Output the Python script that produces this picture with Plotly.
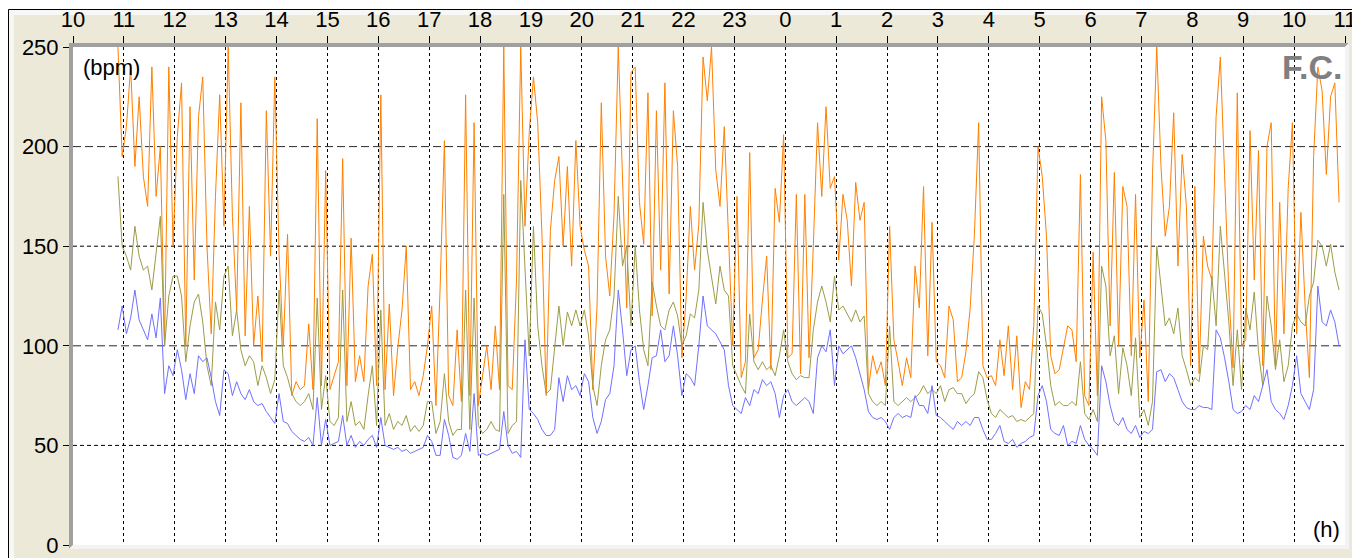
import plotly.graph_objects as go

# ---------------- data (heart rate, bpm, one sample every 5 minutes) ----------------
START_HOUR = 10 + 53 / 60      # first sample 10:53
STEP_MIN = 5

HR_MAX = [
    250, 195,
    210, 240, 190, 225, 185, 170, 240, 175, 200, 100, 240, 150,   # 11h
    205, 232, 100, 220, 133, 215, 235, 150, 106, 175, 226, 160,   # 12h
    250, 165, 118, 222, 105, 170, 100, 125, 92, 218, 145, 235,    # 13h
    146, 100, 156, 75, 82, 78, 80, 111, 78, 214, 80, 188,         # 14h
    78, 85, 92, 194, 80, 154, 82, 95, 82, 130, 146, 80,           # 15h
    226, 78, 121, 75, 99, 118, 150, 78, 82, 75, 85, 100,          # 16h
    120, 70, 130, 203, 75, 70, 108, 72, 226, 75, 212, 70,         # 17h
    86, 100, 78, 110, 78, 250, 80, 78, 133, 250, 160, 207,        # 18h
    235, 212, 156, 75, 158, 183, 195, 150, 190, 140, 203, 160,    # 19h
    148, 140, 78, 120, 222, 145, 125, 166, 250, 180, 119, 237,    # 20h
    240, 172, 151, 227, 115, 218, 138, 232, 126, 218, 190, 94,    # 21h
    124, 170, 138, 161, 245, 223, 250, 188, 170, 210, 155, 100,   # 22h
    175, 84, 92, 197, 94, 98, 123, 145, 88, 179, 162, 206,        # 23h
    94, 96, 176, 86, 176, 94, 150, 212, 175, 220, 179, 185,       # 0h
    143, 176, 163, 130, 182, 163, 172, 78, 95, 86, 92, 80,        # 1h
    160, 103, 92, 80, 94, 84, 140, 119, 180, 95, 162, 92,         # 2h
    90, 84, 120, 113, 82, 84, 97, 119, 156, 212, 90, 84,          # 3h
    85, 80, 103, 85, 110, 78, 105, 69, 82, 78, 110, 200,          # 4h
    185, 155, 95, 86, 88, 100, 110, 108, 92, 186, 75, 70,         # 5h
    147, 75, 225, 203, 110, 187, 100, 180, 170, 95, 176, 94,      # 6h
    123, 72, 186, 250, 190, 155, 170, 217, 140, 196, 170, 90,     # 7h
    180, 86, 155, 140, 133, 215, 245, 186, 127, 89, 227, 100,     # 8h
    103, 208, 133, 198, 90, 200, 212, 90, 172, 106, 179, 212,     # 9h
    106, 167, 120, 84, 195, 240, 228, 186, 225, 232, 172,         # 10h
]

HR_MEAN = [
    185, 150,
    145, 138, 160, 145, 138, 140, 128, 148, 165, 100, 125, 135,
    135, 125, 92, 110, 122, 126, 112, 90, 80, 122, 108, 135,
    140, 105, 118, 98, 90, 95, 92, 80, 90, 84, 76, 83,
    128, 90, 84, 76, 72, 70, 72, 76, 68, 124, 68, 85,
    62, 60, 64, 128, 62, 72, 60, 62, 58, 75, 90, 60,
    118, 60, 66, 58, 62, 60, 65, 57, 60, 57, 60, 72,
    72, 56, 62, 86, 62, 55, 58, 58, 128, 58, 124, 60,
    56, 58, 62, 58, 57, 176, 56, 60, 62, 183, 140, 95,
    160, 110, 90, 76, 78, 100, 120, 100, 117, 110, 118, 110,
    118, 105, 80, 70, 90, 103, 108, 125, 175, 140, 150, 110,
    150, 118, 98, 90, 132, 120, 110, 108, 118, 122, 115, 100,
    105, 116, 114, 128, 172, 148, 135, 121, 140, 128, 125, 90,
    85, 80, 76, 116, 92, 88, 92, 88, 90, 85, 95, 108,
    92, 86, 83, 85, 84, 84, 108, 122, 130, 122, 112, 135,
    118, 120, 116, 112, 118, 112, 115, 76, 72, 70, 72, 70,
    110, 72, 70, 72, 74, 72, 74, 76, 80, 76, 78, 76,
    80, 72, 78, 79, 76, 76, 71, 74, 76, 87, 84, 73,
    66, 64, 68, 66, 64, 65, 62, 63, 62, 64, 66, 120,
    116, 100, 80, 70, 72, 70, 70, 72, 70, 92, 66, 63,
    68, 62, 140, 130, 95, 105, 76, 99, 90, 75, 104, 64,
    68, 60, 72, 150, 130, 110, 114, 106, 119, 95, 88, 80,
    84, 82, 100, 98, 135, 110, 160, 136, 112, 80, 108, 78,
    119, 108, 127, 97, 80, 125, 110, 88, 103, 82, 90, 110,
    116, 112, 110, 125, 132, 153, 150, 140, 151, 137, 128,
]

HR_MIN = [
    108, 120,
    106, 114, 128, 113, 108, 103, 116, 104, 124, 76, 90, 85,
    98, 88, 73, 86, 76, 95, 92, 94, 84, 72, 65, 88,
    86, 75, 82, 76, 73, 78, 72, 70, 71, 67, 64, 61,
    76, 62, 61, 57, 55, 53, 52, 54, 50, 74, 50, 63,
    50, 51, 52, 65, 50, 55, 49, 52, 50, 53, 55, 49,
    64, 50, 49, 48, 49, 47, 48, 46, 47, 48, 49, 55,
    52, 45, 45, 63, 55, 44, 43, 45, 56, 47, 76, 45,
    46, 45, 46, 47, 48, 67, 50, 46, 47, 44, 103, 68,
    66, 63, 58, 55, 55, 58, 84, 72, 85, 78, 80, 75,
    86, 82, 64, 56, 62, 73, 76, 90, 128, 108, 85, 98,
    100, 82, 68, 80, 94, 95, 108, 92, 95, 110, 95, 75,
    86, 84, 80, 100, 125, 110, 108, 106, 102, 98, 80, 70,
    68, 66, 74, 70, 78, 76, 83, 80, 82, 76, 64, 75,
    78, 72, 70, 72, 74, 72, 66, 94, 100, 97, 108, 80,
    100, 96, 98, 100, 94, 86, 78, 67, 64, 63, 64, 62,
    58, 64, 66, 64, 65, 64, 75, 70, 70, 66, 80, 65,
    64, 62, 60, 58, 62, 60, 62, 60, 64, 64, 58, 53,
    53, 56, 60, 52, 51, 53, 49, 51, 52, 54, 55, 75,
    80, 72, 58, 56, 55, 60, 50, 52, 51, 60, 53, 50,
    48, 45, 90, 82, 70, 62, 60, 64, 58, 56, 60, 54,
    57, 56, 58, 87, 88, 82, 86, 84, 78, 72, 69, 68,
    68, 70, 69, 69, 68, 108, 104, 94, 82, 68, 66, 67,
    70, 68, 75, 72, 80, 88, 72, 68, 66, 63, 70, 80,
    95, 76, 72, 68, 78, 130, 112, 110, 118, 112, 100,
]

HOUR_TICKS = list(range(10, 36))                 # 10h .. 11h next day
HOUR_LABELS = [str(h % 24) for h in HOUR_TICKS]
Y_TICKS = [0, 50, 100, 150, 200, 250]
GRID_LONG = [100, 200]
GRID_SHORT = [50, 150]

times = [START_HOUR + i * STEP_MIN / 60 for i in range(len(HR_MAX))]

# ---------------- geometry (page pixels; the page body has an 8px margin) ----------------
OFF = 8
W, H = 1360 - OFF, 558 - OFF
L, R, T, B = 73, 1345, 47, 545       # plot area in page pixels


def px(xp):
    return (xp - L) / (R - L)


def py(yp):
    return (B - yp) / (B - T)


def path(points):
    return "M " + " L ".join(f"{px(a):.5f},{py(b):.5f}" for a, b in points) + " Z"


FONT = "Liberation Sans, Arial, sans-serif"

fig = go.Figure()
fig.add_trace(go.Scatter(x=times, y=HR_MAX, mode="lines", name="max",
                         line=dict(color="#FF8000", width=1), hoverinfo="skip"))
fig.add_trace(go.Scatter(x=times, y=HR_MEAN, mode="lines", name="mean",
                         line=dict(color="#9C9C48", width=1), hoverinfo="skip"))
fig.add_trace(go.Scatter(x=times, y=HR_MIN, mode="lines", name="min",
                         line=dict(color="#7070FF", width=1), hoverinfo="skip"))

shapes = [
    # outer window frame
    dict(type="rect", xref="paper", yref="paper", layer="below",
         x0=px(8.5), x1=px(1420), y0=py(9.5), y1=py(640),
         fillcolor="#F7F7F5", line=dict(color="black", width=1)),
    dict(type="rect", xref="paper", yref="paper", layer="below",
         x0=px(14), x1=px(1420), y0=py(15), y1=py(640),
         fillcolor="#ECE9D8", line=dict(width=0)),
    dict(type="rect", xref="paper", yref="paper", layer="below",
         x0=0, x1=1, y0=0, y1=1, fillcolor="white", line=dict(width=0)),
    # sunken 3D border
    dict(type="path", xref="paper", yref="paper", layer="above",
         path=path([(69, 43), (1349, 43), (1345, 47), (73, 47), (73, 545), (69, 549)]),
         fillcolor="#A0A0A0", line=dict(width=0)),
    dict(type="path", xref="paper", yref="paper", layer="above",
         path=path([(1349, 43), (1349, 549), (69, 549), (73, 545), (1345, 545), (1345, 47)]),
         fillcolor="#F3F3F3", line=dict(width=0)),
]
for g in GRID_LONG:
    shapes.append(dict(type="line", xref="paper", yref="y", layer="between",
                       x0=0, x1=1, y0=g, y1=g,
                       line=dict(color="#2A2A2A", width=1, dash="8px,4px")))
for g in GRID_SHORT:
    shapes.append(dict(type="line", xref="paper", yref="y", layer="between",
                       x0=0, x1=1, y0=g, y1=g,
                       line=dict(color="black", width=1, dash="4px,3px")))

annotations = [
    dict(text="(bpm)", xref="paper", yref="paper", x=px(81), y=py(67),
         xanchor="left", yanchor="middle", showarrow=False,
         font=dict(family=FONT, size=22, color="black")),
    dict(text="F.C.", xref="paper", yref="paper", x=px(1344), y=py(67),
         xanchor="right", yanchor="middle", showarrow=False,
         font=dict(family=FONT, size=34, color="#808080", weight="bold")),
    dict(text="(h)", xref="paper", yref="paper", x=px(1342), y=py(529),
         xanchor="right", yanchor="middle", showarrow=False,
         font=dict(family=FONT, size=22, color="black")),
]

fig.update_layout(
    template="none",
    width=W, height=H,
    margin=dict(l=L - OFF, r=(OFF + W) - R, t=T - OFF, b=(OFF + H) - B, pad=0),
    paper_bgcolor="white",
    plot_bgcolor="white",
    showlegend=False,
    shapes=shapes,
    annotations=annotations,
    xaxis=dict(range=[10, 35], side="top", tickvals=HOUR_TICKS, ticktext=HOUR_LABELS,
               ticks="outside", ticklen=10, tickwidth=1, tickcolor="black",
               showgrid=True, gridcolor="black", gridwidth=1, griddash="3px,3px",
               zeroline=False, showline=False, automargin=False, fixedrange=True,
               tickfont=dict(family=FONT, size=22, color="black")),
    yaxis=dict(range=[0, 250], tickvals=Y_TICKS, ticks="outside", ticklen=9,
               tickwidth=1, tickcolor="black", showgrid=False, zeroline=False,
               showline=False, automargin=False, fixedrange=True,
               tickfont=dict(family=FONT, size=22, color="black")),
)

fig.write_html("out.html")
